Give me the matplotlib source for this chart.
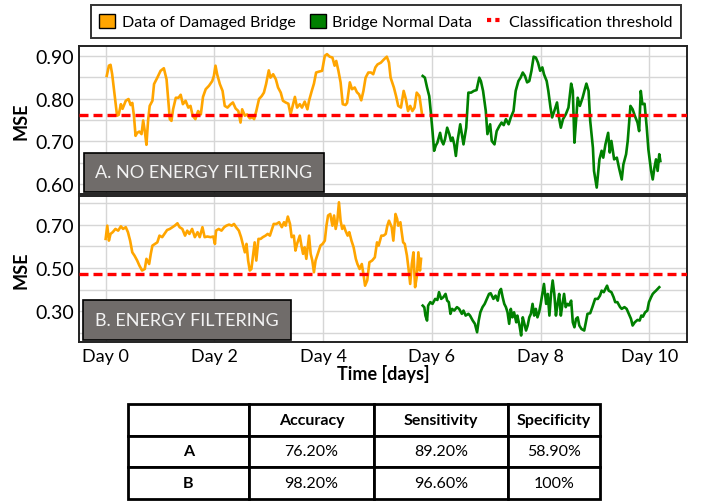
import matplotlib
matplotlib.use("Agg")
import matplotlib.pyplot as plt
from matplotlib.patches import Patch, Rectangle
from matplotlib.lines import Line2D
from matplotlib.ticker import MultipleLocator

plt.rcParams['font.family'] = ['Lato', 'DejaVu Sans']

# ---- data ----
a_dmg_day = [0.02, 0.06, 0.09, 0.12, 0.17, 0.21, 0.24, 0.28, 0.31, 0.37, 0.42, 0.46, 0.49, 0.52, 0.55, 0.58,
             0.62, 0.66, 0.69, 0.72, 0.75, 0.78, 0.81, 0.86, 0.89, 0.95, 1.01, 1.07, 1.12, 1.15, 1.18, 1.21,
             1.24, 1.29, 1.34, 1.38, 1.42, 1.47, 1.52, 1.56, 1.60, 1.65, 1.70, 1.75, 1.79, 1.84, 1.90, 1.96,
             1.99, 2.02, 2.05, 2.10, 2.15, 2.19, 2.24, 2.30, 2.34, 2.39, 2.44, 2.48, 2.51, 2.56, 2.60, 2.65,
             2.70, 2.73, 2.77, 2.82, 2.87, 2.91, 2.95, 3.00, 3.03, 3.08, 3.13, 3.17, 3.22, 3.26, 3.31, 3.36,
             3.40, 3.44, 3.48, 3.52, 3.57, 3.61, 3.66, 3.71, 3.74, 3.79, 3.83, 3.87, 3.92, 3.98, 4.03, 4.07,
             4.12, 4.17, 4.21, 4.24, 4.28, 4.32, 4.36, 4.41, 4.44, 4.49, 4.53, 4.58, 4.62, 4.66, 4.70, 4.74,
             4.78, 4.83, 4.88, 4.92, 4.96, 5.00, 5.06, 5.12, 5.17, 5.21, 5.24, 5.30, 5.34, 5.38, 5.43, 5.48,
             5.52, 5.56, 5.60, 5.64, 5.68, 5.72, 5.77, 5.80, 5.82]
a_dmg_mse = [0.853, 0.877, 0.879, 0.857, 0.802, 0.760, 0.762, 0.787, 0.776, 0.795, 0.799, 0.785, 0.790, 0.760,
             0.713, 0.720, 0.723, 0.717, 0.749, 0.724, 0.692, 0.748, 0.783, 0.795, 0.834, 0.849, 0.865, 0.871,
             0.845, 0.799, 0.752, 0.748, 0.775, 0.802, 0.802, 0.809, 0.787, 0.795, 0.779, 0.783, 0.760, 0.752,
             0.771, 0.763, 0.804, 0.822, 0.830, 0.841, 0.853, 0.877, 0.857, 0.834, 0.818, 0.783, 0.779, 0.787,
             0.791, 0.777, 0.771, 0.744, 0.775, 0.760, 0.763, 0.754, 0.757, 0.752, 0.771, 0.799, 0.806, 0.814,
             0.834, 0.866, 0.849, 0.857, 0.845, 0.826, 0.814, 0.795, 0.791, 0.788, 0.763, 0.783, 0.804, 0.779,
             0.787, 0.779, 0.793, 0.775, 0.795, 0.818, 0.835, 0.861, 0.863, 0.865, 0.900, 0.904, 0.898, 0.896,
             0.877, 0.888, 0.865, 0.838, 0.787, 0.785, 0.790, 0.838, 0.822, 0.826, 0.815, 0.810, 0.796, 0.818,
             0.849, 0.861, 0.861, 0.857, 0.873, 0.880, 0.884, 0.892, 0.898, 0.884, 0.849, 0.826, 0.806, 0.783,
             0.779, 0.818, 0.799, 0.771, 0.783, 0.771, 0.779, 0.814, 0.806, 0.779, 0.761]

a_nrm_day = [5.83, 5.87, 5.91, 5.95, 5.98, 6.01, 6.04, 6.07, 6.10, 6.15, 6.18, 6.21, 6.24, 6.28, 6.32, 6.35,
             6.38, 6.41, 6.44, 6.47, 6.52, 6.55, 6.58, 6.63, 6.67, 6.72, 6.77, 6.82, 6.87, 6.90, 6.94, 6.99,
             7.02, 7.07, 7.10, 7.15, 7.19, 7.24, 7.28, 7.32, 7.36, 7.41, 7.45, 7.50, 7.54, 7.59, 7.63, 7.67,
             7.71, 7.75, 7.79, 7.83, 7.87, 7.91, 7.95, 7.99, 8.03, 8.06, 8.11, 8.14, 8.18, 8.21, 8.25, 8.30,
             8.33, 8.37, 8.41, 8.46, 8.51, 8.56, 8.59, 8.62, 8.65, 8.68, 8.72, 8.77, 8.82, 8.84, 8.88, 8.91,
             8.96, 8.98, 9.03, 9.08, 9.12, 9.15, 9.19, 9.24, 9.27, 9.30, 9.35, 9.40, 9.44, 9.49, 9.52, 9.57,
             9.60, 9.65, 9.69, 9.73, 9.78, 9.81, 9.84, 9.87, 9.91, 9.95, 9.98, 10.03, 10.06, 10.09, 10.12,
             10.15, 10.18, 10.20]
a_nrm_mse = [0.853, 0.849, 0.826, 0.806, 0.767, 0.724, 0.678, 0.690, 0.697, 0.720, 0.701, 0.693, 0.705, 0.732,
             0.717, 0.701, 0.709, 0.693, 0.666, 0.701, 0.740, 0.717, 0.693, 0.732, 0.814, 0.814, 0.818, 0.820,
             0.849, 0.841, 0.818, 0.771, 0.717, 0.740, 0.701, 0.693, 0.724, 0.736, 0.744, 0.738, 0.752, 0.740,
             0.756, 0.771, 0.818, 0.841, 0.849, 0.861, 0.853, 0.838, 0.841, 0.865, 0.898, 0.896, 0.884, 0.865,
             0.873, 0.857, 0.841, 0.818, 0.779, 0.756, 0.771, 0.791, 0.760, 0.732, 0.752, 0.763, 0.779, 0.835,
             0.818, 0.697, 0.748, 0.802, 0.783, 0.802, 0.826, 0.835, 0.818, 0.748, 0.685, 0.631, 0.592, 0.658,
             0.678, 0.662, 0.693, 0.720, 0.674, 0.701, 0.658, 0.662, 0.638, 0.611, 0.646, 0.670, 0.701, 0.783,
             0.775, 0.760, 0.744, 0.724, 0.818, 0.787, 0.788, 0.732, 0.681, 0.631, 0.611, 0.638, 0.658, 0.631,
             0.670, 0.654]

b_dmg_day = [0.00, 0.03, 0.06, 0.09, 0.13, 0.18, 0.23, 0.28, 0.32, 0.37, 0.41, 0.45, 0.49, 0.53, 0.58, 0.62,
             0.67, 0.72, 0.75, 0.80, 0.83, 0.86, 0.91, 0.95, 0.99, 1.04, 1.09, 1.13, 1.18, 1.23, 1.27, 1.32,
             1.36, 1.41, 1.46, 1.50, 1.54, 1.59, 1.64, 1.69, 1.73, 1.78, 1.82, 1.87, 1.93, 1.98, 2.01, 2.03,
             2.08, 2.13, 2.18, 2.22, 2.27, 2.32, 2.36, 2.40, 2.45, 2.49, 2.53, 2.56, 2.59, 2.62, 2.65, 2.68,
             2.71, 2.74, 2.77, 2.81, 2.85, 2.89, 2.94, 2.98, 3.02, 3.06, 3.09, 3.14, 3.19, 3.24, 3.28, 3.31,
             3.35, 3.39, 3.42, 3.46, 3.49, 3.52, 3.57, 3.60, 3.63, 3.66, 3.69, 3.74, 3.77, 3.80, 3.83, 3.86,
             3.91, 3.95, 3.99, 4.03, 4.06, 4.09, 4.13, 4.17, 4.20, 4.23, 4.26, 4.29, 4.32, 4.35, 4.38, 4.41,
             4.45, 4.48, 4.52, 4.56, 4.60, 4.63, 4.67, 4.71, 4.74, 4.77, 4.81, 4.85, 4.90, 4.95, 4.99, 5.02,
             5.07, 5.11, 5.15, 5.18, 5.21, 5.26, 5.29, 5.33, 5.36, 5.38, 5.42, 5.44, 5.47, 5.50, 5.54, 5.57,
             5.60, 5.63, 5.66, 5.69, 5.72, 5.75, 5.78, 5.80]
b_dmg_mse = [0.634, 0.695, 0.626, 0.657, 0.665, 0.680, 0.672, 0.692, 0.680, 0.688, 0.665, 0.626, 0.572, 0.557,
             0.534, 0.511, 0.488, 0.495, 0.542, 0.518, 0.565, 0.603, 0.611, 0.618, 0.649, 0.642, 0.660, 0.675,
             0.680, 0.688, 0.695, 0.706, 0.688, 0.680, 0.649, 0.672, 0.657, 0.680, 0.642, 0.665, 0.642, 0.688,
             0.642, 0.645, 0.642, 0.645, 0.611, 0.672, 0.680, 0.672, 0.688, 0.695, 0.700, 0.695, 0.703, 0.688,
             0.672, 0.642, 0.603, 0.572, 0.611, 0.534, 0.488, 0.495, 0.557, 0.618, 0.534, 0.634, 0.634, 0.642,
             0.649, 0.657, 0.649, 0.680, 0.703, 0.703, 0.711, 0.688, 0.711, 0.695, 0.737, 0.703, 0.642, 0.649,
             0.580, 0.611, 0.649, 0.603, 0.565, 0.595, 0.542, 0.649, 0.565, 0.534, 0.480, 0.534, 0.572, 0.603,
             0.611, 0.626, 0.695, 0.742, 0.749, 0.695, 0.742, 0.680, 0.718, 0.803, 0.718, 0.680, 0.695, 0.672,
             0.649, 0.665, 0.626, 0.595, 0.542, 0.518, 0.495, 0.518, 0.472, 0.418, 0.442, 0.526, 0.534, 0.549,
             0.618, 0.603, 0.649, 0.649, 0.657, 0.695, 0.718, 0.688, 0.626, 0.749, 0.726, 0.695, 0.711, 0.672,
             0.618, 0.611, 0.557, 0.495, 0.426, 0.518, 0.572, 0.411, 0.457, 0.572, 0.488, 0.542]

b_nrm_day = [5.83, 5.86, 5.88, 5.91, 5.93, 5.97, 6.01, 6.06, 6.10, 6.13, 6.17, 6.21, 6.25, 6.28, 6.31, 6.34,
             6.37, 6.41, 6.46, 6.50, 6.55, 6.58, 6.62, 6.67, 6.70, 6.75, 6.79, 6.83, 6.86, 6.89, 6.93, 6.97,
             7.01, 7.05, 7.08, 7.13, 7.17, 7.21, 7.24, 7.27, 7.30, 7.33, 7.36, 7.39, 7.42, 7.45, 7.48, 7.51,
             7.55, 7.57, 7.61, 7.64, 7.67, 7.70, 7.73, 7.76, 7.79, 7.82, 7.85, 7.88, 7.91, 7.94, 7.97, 8.00,
             8.03, 8.06, 8.10, 8.13, 8.16, 8.19, 8.22, 8.25, 8.28, 8.31, 8.34, 8.37, 8.40, 8.43, 8.46, 8.49,
             8.52, 8.56, 8.59, 8.62, 8.65, 8.68, 8.71, 8.75, 8.80, 8.83, 8.86, 8.91, 8.95, 9.00, 9.05, 9.09,
             9.12, 9.16, 9.19, 9.22, 9.25, 9.30, 9.34, 9.37, 9.41, 9.46, 9.49, 9.54, 9.58, 9.62, 9.66, 9.69,
             9.73, 9.78, 9.82, 9.85, 9.88, 9.92, 9.96, 9.99, 10.03, 10.06, 10.09, 10.12, 10.15, 10.18]
b_nrm_mse = [0.326, 0.318, 0.280, 0.257, 0.326, 0.342, 0.334, 0.357, 0.352, 0.388, 0.357, 0.365, 0.380, 0.349,
             0.342, 0.288, 0.311, 0.303, 0.319, 0.311, 0.288, 0.303, 0.280, 0.288, 0.280, 0.257, 0.242, 0.203,
             0.257, 0.295, 0.319, 0.334, 0.357, 0.380, 0.383, 0.357, 0.372, 0.349, 0.390, 0.403, 0.365, 0.334,
             0.319, 0.295, 0.242, 0.311, 0.272, 0.295, 0.249, 0.280, 0.234, 0.188, 0.272, 0.242, 0.211, 0.234,
             0.272, 0.288, 0.334, 0.280, 0.311, 0.272, 0.295, 0.334, 0.380, 0.426, 0.334, 0.380, 0.280, 0.380,
             0.442, 0.380, 0.280, 0.334, 0.380, 0.280, 0.334, 0.380, 0.319, 0.334, 0.327, 0.349, 0.249, 0.226,
             0.265, 0.272, 0.234, 0.218, 0.211, 0.249, 0.288, 0.291, 0.319, 0.357, 0.357, 0.372, 0.395, 0.388,
             0.403, 0.418, 0.395, 0.388, 0.365, 0.342, 0.342, 0.319, 0.311, 0.319, 0.311, 0.288, 0.265, 0.234,
             0.249, 0.260, 0.257, 0.280, 0.275, 0.295, 0.303, 0.342, 0.365, 0.380, 0.388, 0.395, 0.403, 0.411]

threshold_a = 0.761
threshold_b = 0.472

day_ticks = [0, 2, 4, 6, 8, 10]
day_labels = ['Day 0', 'Day 2', 'Day 4', 'Day 6', 'Day 8', 'Day 10']

table_cols = ['', 'Accuracy', 'Sensitivity', 'Specificity']
table_rows = [['A', '76.20%', '89.20%', '58.90%'],
              ['B', '98.20%', '96.60%', '100%']]

ORANGE = '#ffa500'
GREEN = '#008000'
RED = '#ff0000'
GRID = '#d6d6d6'
BOXGRAY = '#706c6a'

fig = plt.figure(figsize=(7.02, 5.02), dpi=100)
W, H = 702, 502


def px_axes(x0, y0, x1, y1):
    return fig.add_axes([x0 / W, 1 - y1 / H, (x1 - x0) / W, (y1 - y0) / H])


ax_a = px_axes(79, 47, 687, 195)
ax_b = px_axes(79, 197, 687, 343)

panels = [
    (ax_a, a_dmg_day, a_dmg_mse, a_nrm_day, a_nrm_mse, threshold_a, (0.577, 0.923),
     [0.6, 0.7, 0.8, 0.9], 0.05, 'A. NO ENERGY FILTERING', (0.008, 0.0135, 0.395, 0.264)),
    (ax_b, b_dmg_day, b_dmg_mse, b_nrm_day, b_nrm_mse, threshold_b, (0.158, 0.832),
     [0.3, 0.5, 0.7], 0.1, 'B. ENERGY FILTERING', (0.0066, 0.0137, 0.342, 0.274)),
]

for ax, dd, dm, nd, nm, thr, ylim, yt, minor, label, box in panels:
    ax.plot(dd, dm, color=ORANGE, lw=1.9, zorder=3)
    ax.plot(nd, nm, color=GREEN, lw=1.9, zorder=3)
    ax.axhline(thr, color=RED, lw=2.4, dashes=(2.7, 1.5), zorder=4)
    ax.set_xlim(-0.49, 10.69)
    ax.set_ylim(*ylim)
    ax.set_yticks(yt)
    ax.set_yticklabels([f'{v:.2f}' for v in yt])
    ax.yaxis.set_minor_locator(MultipleLocator(minor))
    ax.set_xticks(day_ticks)
    ax.grid(True, which='both', color=GRID, lw=1.0, zorder=0)
    ax.tick_params(which='both', length=0, labelsize=14)
    ax.set_ylabel('MSE', fontsize=13, fontweight='bold')
    ax.yaxis.set_label_coords(-0.081, 0.5)
    for s in ax.spines.values():
        s.set_color('#222222')
        s.set_linewidth(1.4)
    bx, by, bw, bh = box
    ax.add_patch(Rectangle((bx, by), bw, bh, transform=ax.transAxes, facecolor=BOXGRAY,
                           edgecolor='black', lw=1.2, zorder=5))
    ax.text(bx + bw / 2, by + bh / 2, label, transform=ax.transAxes, ha='center', va='center',
            color='#f2f2f2', fontsize=13, zorder=6)

ax_a.tick_params(labelbottom=False)
ax_b.set_xticklabels(day_labels)
ax_b.tick_params(axis='x', labelsize=13, pad=4)
ax_b.set_xlabel('Time [days]', fontsize=13, fontweight='bold', labelpad=0)

handles = [Patch(facecolor=ORANGE, edgecolor='black', lw=1),
           Patch(facecolor=GREEN, edgecolor='black', lw=1),
           Line2D([], [], color=RED, lw=3, ls=(0, (1, 1)))]
names = ['Data of Damaged Bridge', 'Bridge Normal Data', 'Classification threshold']
leg = fig.legend(handles, names, loc='center', bbox_to_anchor=(386 / W, 1 - 22.5 / H), ncol=3,
                 fontsize=11.5, frameon=True, fancybox=False, edgecolor='black',
                 handlelength=1.0, handleheight=1.0, handletextpad=0.4, columnspacing=0.9,
                 borderpad=0.55, borderaxespad=0)
leg.get_frame().set_linewidth(1.4)

# table
ax_t = px_axes(128, 405, 600, 500)
ax_t.axis('off')
widths = [121, 125, 134, 92]
tot = sum(widths)
tbl = ax_t.table(cellText=table_rows, colLabels=table_cols, cellLoc='center',
                 colWidths=[w / tot for w in widths], bbox=[0, 0, 1, 1])
tbl.auto_set_font_size(False)
for (r, c), cell in tbl.get_celld().items():
    cell.set_edgecolor('black')
    cell.set_linewidth(2.0)
    txt = cell.get_text()
    txt.set_fontsize(11.5)
    if r == 0 or c == 0:
        txt.set_fontweight('bold')

fig.savefig('out.png', dpi=100)
